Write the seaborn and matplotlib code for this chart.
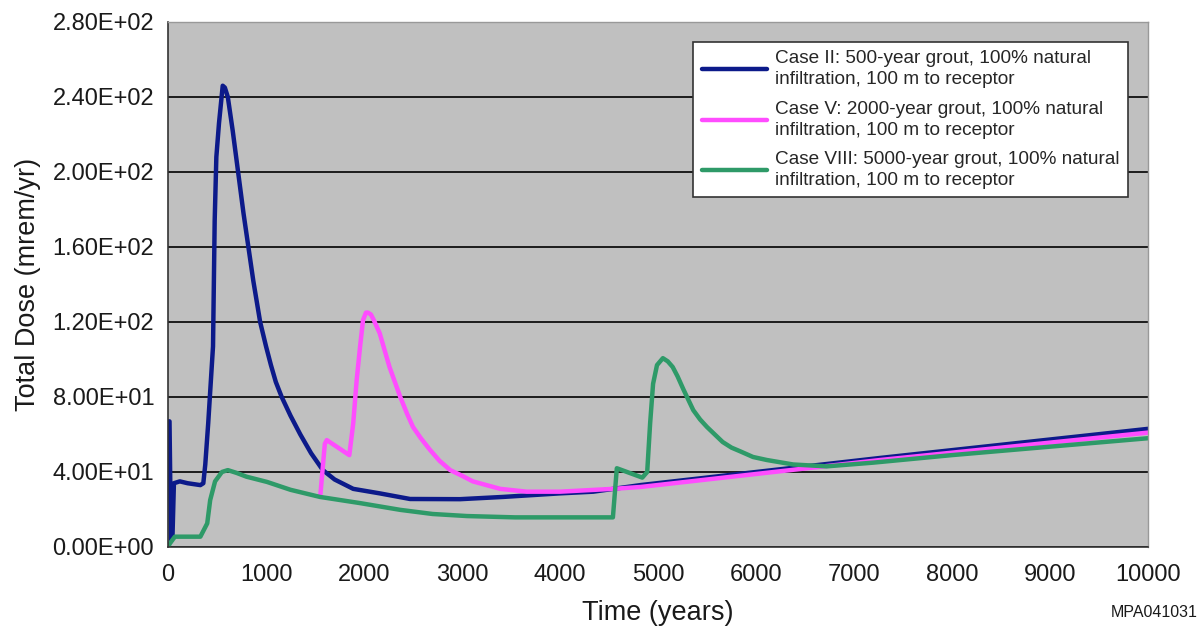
import pandas as pd
import seaborn as sns
import matplotlib.pyplot as plt
from matplotlib.ticker import FuncFormatter

# Case II: 500-year grout
blue_t = [0, 15, 30, 45, 60, 120, 200, 330, 360, 380, 410, 459, 476, 493, 520, 558,
          580, 610, 660, 715, 770, 820, 870, 940, 1000, 1050, 1100, 1160, 1250, 1350,
          1460, 1580, 1700, 1890, 2160, 2470, 2980, 3420, 4000, 4340, 4820, 7270, 10000]
blue_v = [67, 67, 3, 5, 34, 35, 34, 33, 34, 44, 66, 107, 174, 208, 226, 246,
          245, 240, 222, 200, 178, 160, 142, 120, 107, 97, 88, 80, 70, 60,
          50, 41, 36, 31, 28.6, 25.6, 25.5, 26.7, 28.6, 29.5, 33, 47.5, 63]

# Case V: 2000-year grout
pink_t = [1555, 1600, 1620, 1850, 1890, 1925, 1960, 1990, 2020, 2040, 2070, 2100,
          2160, 2260, 2370, 2440, 2500, 2580, 2670, 2770, 2880, 3000, 3110, 3390,
          3660, 4000, 4540, 4820, 7270, 10000]
pink_v = [28, 55, 57, 49, 66, 89, 107, 121, 125, 125, 124, 121,
          114, 96, 80, 71, 64, 58, 52, 46, 41, 38, 35, 31,
          29.5, 29.5, 31, 32, 46.4, 61]

# Case VIII: 5000-year grout
green_t = [0, 20, 70, 330, 400, 430, 480, 550, 610, 700, 800, 1010, 1250, 1550, 1960,
           2370, 2700, 3050, 3540, 4540, 4580, 4840, 4890, 4920, 4950, 4990, 5050,
           5100, 5150, 5200, 5260, 5360, 5430, 5500, 5580, 5660, 5750, 5840, 5970,
           6110, 6380, 6720, 7200, 8000, 9000, 10000]
green_v = [0, 2, 5.5, 5.5, 12.6, 25, 35, 40, 41, 39.5, 37.5, 34.7, 30.5, 26.7, 23.4,
           19.8, 17.6, 16.5, 15.8, 15.8, 42, 37, 40, 66, 87, 97, 100.7,
           99, 96, 91, 84, 73, 68, 64, 60, 56, 53, 51, 48,
           46.4, 44, 43, 45, 49, 53.5, 58]

cases = ["Case II: 500-year grout, 100% natural\ninfiltration, 100 m to receptor",
         "Case V: 2000-year grout, 100% natural\ninfiltration, 100 m to receptor",
         "Case VIII: 5000-year grout, 100% natural\ninfiltration, 100 m to receptor"]
colors = ["#0c1a8a", "#ff4cff", "#2e9a68"]

df = pd.concat([
    pd.DataFrame({"time": blue_t, "dose": blue_v, "case": cases[0]}),
    pd.DataFrame({"time": pink_t, "dose": pink_v, "case": cases[1]}),
    pd.DataFrame({"time": green_t, "dose": green_v, "case": cases[2]}),
])

sns.set_style("white")
plt.rcParams["font.family"] = ["Liberation Sans", "DejaVu Sans"]

fig, ax = plt.subplots(figsize=(12.02, 6.35), dpi=100)
fig.subplots_adjust(left=0.1398, right=0.955, top=0.9654, bottom=0.1386)

sns.lineplot(data=df, x="time", y="dose", hue="case", hue_order=cases,
             palette=dict(zip(cases, colors)), estimator=None, sort=False,
             linewidth=3.2, ax=ax)

ax.set_facecolor("#c0c0c0")
ax.set_xlim(0, 10000)
ax.set_ylim(0, 280)
ax.set_xticks(range(0, 10001, 1000))
ax.set_yticks(range(0, 281, 40))
ax.yaxis.set_major_formatter(FuncFormatter(lambda v, p: format(v, ".2E")))
ax.grid(axis="y", color="black", linewidth=1.2)
ax.set_axisbelow(True)
ax.tick_params(axis="both", direction="out", length=5, width=1, color="#333333",
               labelsize=17, colors="#1a1a1a", pad=5)
ax.tick_params(axis="x", pad=7)
for side in ["left", "bottom"]:
    ax.spines[side].set_color("#333333")
    ax.spines[side].set_linewidth(1.2)
for side in ["top", "right"]:
    ax.spines[side].set_color("#999999")
    ax.spines[side].set_linewidth(1)

ax.set_xlabel("Time (years)", fontsize=19.5, color="#1a1a1a", labelpad=10)
ax.set_ylabel("Total Dose (mrem/yr)", fontsize=19.5, color="#1a1a1a", labelpad=8)

leg = ax.legend(loc="upper right", bbox_to_anchor=(0.98, 0.962), fontsize=13.7,
                frameon=True, fancybox=False, framealpha=1, edgecolor="#333333",
                handlelength=3.4, labelspacing=0.65, borderpad=0.45,
                handletextpad=0.45, borderaxespad=0)
leg.get_frame().set_linewidth(1.2)
for line in leg.get_lines():
    line.set_linewidth(3.2)
for t in leg.get_texts():
    t.set_linespacing(1.3)

fig.text(0.996, 0.035, "MPA041031", ha="right", va="center", fontsize=11.5,
         color="#1a1a1a")

fig.savefig("out.png", dpi=100)
